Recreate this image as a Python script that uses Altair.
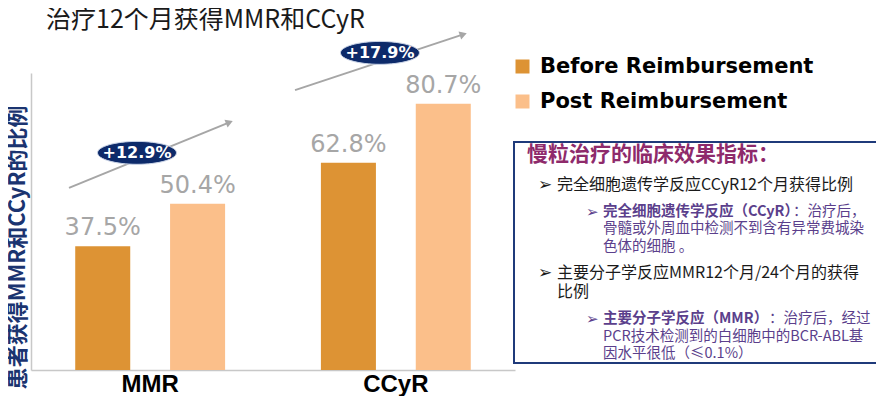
import math
import altair as alt
import pandas as pd

# ---------------- data ----------------
categories = ["MMR", "CCyR"]
series = ["Before Reimbursement", "Post Reimbursement"]
before_vals = [37.5, 62.8]
post_vals = [50.4, 80.7]
gain_labels = ["+12.9%", "+17.9%"]

# annotation arrows (x in group units 0..2, y in percent)
arrow_x0 = [0.157, 1.091]
arrow_y0 = [55.2, 84.8]
arrow_x1 = [0.835, 1.802]
arrow_y1 = [75.5, 102.1]
badge_x = [0.438, 1.442]
badge_y = [65.8, 96.1]

title_text = "治疗12个月获得MMR和CCyR"
y_title = "患者获得MMR和CCyR的比例"
box_title = "慢粒治疗的临床效果指标："
item1 = "完全细胞遗传学反应CCyR12个月获得比例"
sub1_bold = "完全细胞遗传学反应（CCyR）"
sub1_rest = "：治疗后，"
sub1_l2 = "骨髓或外周血中检测不到含有异常费城染"
sub1_l3 = "色体的细胞 。"
item2_l1 = "主要分子学反应MMR12个月/24个月的获得"
item2_l2 = "比例"
sub2_bold = "主要分子学反应（MMR）"
sub2_rest = "：治疗后，经过"
sub2_l2 = "PCR技术检测到的白细胞中的BCR-ABL基"
sub2_l3 = "因水平很低（≤0.1%）"

# ---------------- layout constants ----------------
W, H = 484, 297
YMAX = 90
PX_X = W / 2.0
PX_Y = H / YMAX
C_BEFORE = "#DD9334"
C_POST = "#FBBF8A"
CJK = "Noto Sans CJK SC"

rows = []
for i, c in enumerate(categories):
    rows.append({"category": c, "series": series[0], "value": before_vals[i]})
    rows.append({"category": c, "series": series[1], "value": post_vals[i]})
bars_df = pd.DataFrame(rows)
bars_df["label"] = bars_df["value"].map(lambda v: f"{v:.1f}%")

arr_rows = []
for i in range(2):
    dxp = (arrow_x1[i] - arrow_x0[i]) * PX_X
    dyp = (arrow_y1[i] - arrow_y0[i]) * PX_Y
    L = math.hypot(dxp, dyp)
    t = 1 - 4.0 / L
    ang = (-math.degrees(math.atan2(dyp, dxp))) % 360
    arr_rows.append({
        "x0": arrow_x0[i], "y0": arrow_y0[i],
        "x1": arrow_x0[i] + (arrow_x1[i] - arrow_x0[i]) * t,
        "y1": arrow_y0[i] + (arrow_y1[i] - arrow_y0[i]) * t,
        "ang": ang,
        "bx": badge_x[i], "by": badge_y[i], "gain": gain_labels[i],
    })
arr_df = pd.DataFrame(arr_rows)

yscale = alt.Scale(domain=[0, YMAX], nice=False)
yaxis = alt.Axis(title=y_title, labels=False, ticks=False, grid=False,
                 domainColor="#C8C8C8", domainWidth=1.5,
                 titleFont=CJK, titleFontSize=22, titleFontWeight="bold",
                 titleColor="#1B3470", titleX=-2, titleY=174,
                 titleAngle=270, titleAlign="center", titleBaseline="bottom")
xq = alt.Scale(domain=[0, 2], nice=False, zero=False)

base = alt.Chart(bars_df)
xband = alt.X("category:N", sort=categories,
              scale=alt.Scale(paddingInner=0.39, paddingOuter=0.18),
              axis=alt.Axis(title=None, labelFont="Liberation Sans", labelFontSize=24,
                            labelFontWeight="bold", labelColor="black", ticks=False,
                            domainColor="#C8C8C8", domainWidth=1.5, labelPadding=2,
                            labelAngle=0))
xoff = alt.XOffset("series:N", sort=series,
                   scale=alt.Scale(paddingInner=0.42, paddingOuter=0))

bars = base.mark_bar().encode(
    x=xband,
    xOffset=xoff,
    y=alt.Y("value:Q", scale=yscale, axis=yaxis),
    color=alt.Color("series:N", sort=series,
                    scale=alt.Scale(domain=series, range=[C_BEFORE, C_POST]),
                    legend=alt.Legend(orient="none", legendX=481, legendY=-17,
                                      title=None, symbolType="square", symbolSize=196,
                                      symbolStrokeWidth=0, labelFont="DejaVu Sans",
                                      labelFontSize=21, labelFontWeight="bold",
                                      labelColor="black", labelLimit=500,
                                      rowPadding=13, labelOffset=7, padding=0)),
)

labels = base.mark_text(font="DejaVu Sans", fontSize=24, color="#A6A6A6",
                        baseline="alphabetic", dy=-11).encode(
    x=xband,
    xOffset=xoff,
    y=alt.Y("value:Q", scale=yscale, axis=yaxis),
    text="label:N",
)

bar_layer = alt.layer(bars, labels)

abase = alt.Chart(arr_df)
arrow_lines = abase.mark_rule(color="#A6A6A6", strokeWidth=2).encode(
    x=alt.X("x0:Q", scale=xq, axis=None),
    x2="x1:Q",
    y=alt.Y("y0:Q", scale=yscale, axis=yaxis),
    y2="y1:Q",
)
arrow_heads = abase.mark_point(shape="triangle-right", filled=True, size=70,
                               color="#A6A6A6", opacity=1).encode(
    x=alt.X("x1:Q", scale=xq, axis=None),
    y=alt.Y("y1:Q", scale=yscale, axis=yaxis),
    angle=alt.Angle("ang:Q", scale=None),
)
ellipse_path = "M -1 0 A 1 0.29 0 1 0 1 0 A 1 0.29 0 1 0 -1 0 Z"
badges = abase.mark_point(shape=ellipse_path, filled=True, size=6241,
                          color="#0D2A6A", opacity=1, stroke="#C9D3E6",
                          strokeWidth=1).encode(
    x=alt.X("bx:Q", scale=xq, axis=None),
    y=alt.Y("by:Q", scale=yscale, axis=yaxis),
)
badge_text = abase.mark_text(font="DejaVu Sans", fontSize=16, fontWeight="bold",
                             color="white", baseline="middle").encode(
    x=alt.X("bx:Q", scale=xq, axis=None),
    y=alt.Y("by:Q", scale=yscale, axis=yaxis),
    text="gain:N",
)
arrow_layer = alt.layer(arrow_lines, arrow_heads, badges, badge_text)

one = alt.Data(values=[{"a": 1}])


def txt(s, x, y, size, color="#1A1A1A", weight="normal", font=CJK, baseline="middle"):
    return alt.Chart(one).mark_text(text=s, x=x, y=y, fontSize=size, font=font,
                                    fontWeight=weight, color=color, align="left",
                                    baseline=baseline)


OX, OY = 31, 73  # page position of the plot origin

box = alt.Chart(one).mark_rect(fill="white", stroke="#1F3A7A", strokeWidth=2).encode(
    x=alt.value(514 - OX), x2=alt.value(900 - OX),
    y=alt.value(142 - OY), y2=alt.value(363 - OY),
)

PUR = "#5B3F8C"
texts = [
    txt(title_text, 46 - OX, 28 - OY, 25, color="#1A1A1A", baseline="alphabetic"),
    txt(box_title, 527 - OX, 155 - OY, 21, color="#8E2A6B", weight="bold"),
    txt("➢", 538 - OX, 185 - OY, 17, color="#1A1A1A", font="DejaVu Sans"),
    txt(item1, 557 - OX, 185 - OY, 16),
    txt("➢", 586 - OX, 212 - OY, 15, color=PUR, font="DejaVu Sans"),
    txt(sub1_bold, 603 - OX, 212 - OY, 14.5, color=PUR, weight="bold"),
    txt(sub1_rest, 793 - OX, 212 - OY, 14.5, color=PUR),
    txt(sub1_l2, 603 - OX, 229 - OY, 14.5, color=PUR),
    txt(sub1_l3, 603 - OX, 247 - OY, 14.5, color=PUR),
    txt("➢", 538 - OX, 273 - OY, 17, color="#1A1A1A", font="DejaVu Sans"),
    txt(item2_l1, 557 - OX, 273 - OY, 16),
    txt(item2_l2, 557 - OX, 292 - OY, 16),
    txt("➢", 586 - OX, 319 - OY, 15, color=PUR, font="DejaVu Sans"),
    txt(sub2_bold, 603 - OX, 319 - OY, 14.5, color=PUR, weight="bold"),
    txt(sub2_rest, 769 - OX, 319 - OY, 14.5, color=PUR),
    txt(sub2_l2, 603 - OX, 337 - OY, 14.5, color=PUR),
    txt(sub2_l3, 603 - OX, 354 - OY, 14.5, color=PUR),
]

chart = alt.layer(
    box, bar_layer, arrow_layer, *texts
).resolve_scale(x="independent").properties(
    width=W, height=H,
    autosize=alt.AutoSizeParams(type="none"),
    padding={"left": 23, "top": 65, "right": 868 - 23 - W, "bottom": 388 - 65 - H},
).configure_view(stroke=None)

chart.save("out.html", embed_options={"renderer": "svg", "actions": False})
